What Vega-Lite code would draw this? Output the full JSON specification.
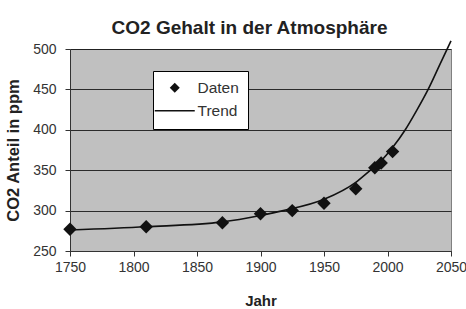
{
  "$schema": "https://vega.github.io/schema/vega-lite/v6.json",
  "width": 381,
  "height": 202,
  "autosize": {"type": "none"},
  "padding": {"left": 70, "top": 49, "right": 15, "bottom": 58},
  "background": "white",
  "config": {
    "view": {"fill": "#c0c0c0", "stroke": "#808080"},
    "font": "Liberation Sans"
  },
  "title": {
    "text": "CO2 Gehalt in der Atmosphäre",
    "fontSize": 19,
    "fontWeight": "bold",
    "color": "#222",
    "anchor": "middle",
    "offset": 0,
    "dx": -11
  },
  "layer": [
    {
      "data": {
        "values": [
          {"Jahr": 1750, "ppm": 276},
          {"Jahr": 1810, "ppm": 280},
          {"Jahr": 1870, "ppm": 286},
          {"Jahr": 1900, "ppm": 294},
          {"Jahr": 1918, "ppm": 300},
          {"Jahr": 1950, "ppm": 314},
          {"Jahr": 1975, "ppm": 335},
          {"Jahr": 1985, "ppm": 348},
          {"Jahr": 1994, "ppm": 360},
          {"Jahr": 2004, "ppm": 378},
          {"Jahr": 2014, "ppm": 400},
          {"Jahr": 2023, "ppm": 424},
          {"Jahr": 2032, "ppm": 450},
          {"Jahr": 2041, "ppm": 480},
          {"Jahr": 2050, "ppm": 510}
        ]
      },
      "mark": {"type": "line", "interpolate": "monotone", "color": "#111", "strokeWidth": 1.6, "clip": false},
      "encoding": {
        "x": {"field": "Jahr", "type": "quantitative"},
        "y": {"field": "ppm", "type": "quantitative"},
        "color": {
          "datum": "Trend",
          "scale": {"domain": ["Daten", "Trend"], "range": ["#111", "#111"]},
          "legend": {
            "orient": "none",
            "legendX": 83,
            "legendY": 22,
            "title": null,
            "fillColor": "white",
            "strokeColor": "#000",
            "padding": 9,
            "symbolSize": 400,
            "symbolOffset": 5,
            "labelOffset": 15,
            "rowPadding": 6,
            "labelFontSize": 15.5,
            "labelColor": "#333",
            "encode": {
              "symbols": {
                "update": {
                  "shape": {"signal": "datum.value === 'Daten' ? 'diamond' : 'M-2,0H2'"},
                  "size": {"signal": "datum.value === 'Daten' ? 100 : 400"},
                  "fill": {"signal": "datum.value === 'Daten' ? '#111' : 'transparent'"},
                  "stroke": {"value": "#111"},
                  "strokeWidth": {"signal": "datum.value === 'Daten' ? 0 : 1.6"},
                  "opacity": {"value": 1}
                }
              }
            }
          }
        }
      }
    },
    {
      "data": {
        "values": [
          {"Jahr": 1750, "ppm": 277},
          {"Jahr": 1810, "ppm": 280},
          {"Jahr": 1870, "ppm": 285},
          {"Jahr": 1900, "ppm": 296},
          {"Jahr": 1925, "ppm": 300},
          {"Jahr": 1950, "ppm": 309},
          {"Jahr": 1975, "ppm": 327},
          {"Jahr": 1990, "ppm": 353},
          {"Jahr": 1995, "ppm": 359},
          {"Jahr": 2004, "ppm": 373}
        ]
      },
      "mark": {"type": "point", "shape": "diamond", "filled": true, "size": 180, "opacity": 1},
      "encoding": {
        "x": {
          "field": "Jahr",
          "type": "quantitative",
          "scale": {"domain": [1750, 2050], "nice": false, "zero": false},
          "axis": {
            "title": "Jahr",
            "values": [1750, 1800, 1850, 1900, 1950, 2000, 2050],
            "format": "d",
            "grid": false,
            "domainColor": "#333",
            "tickColor": "#333",
            "tickSize": 5,
            "labelFontSize": 14,
            "labelColor": "#333",
            "labelPadding": 4,
            "labelFlush": false,
            "labelOverlap": false,
            "labelBound": false,
            "titleFontSize": 15,
            "titleFontWeight": "bold",
            "titleColor": "#222",
            "titleY": 49,
            "titleBaseline": "middle"
          }
        },
        "y": {
          "field": "ppm",
          "type": "quantitative",
          "scale": {"domain": [250, 500], "nice": false, "zero": false},
          "axis": {
            "title": "CO2 Anteil in ppm",
            "values": [250, 300, 350, 400, 450, 500],
            "grid": true,
            "gridColor": "#111",
            "gridOpacity": 0.85,
            "domainColor": "#333",
            "tickColor": "#333",
            "tickSize": 5,
            "labelFontSize": 14,
            "labelColor": "#333",
            "labelPadding": 9,
            "labelOverlap": false,
            "titleFontSize": 16.5,
            "titleFontWeight": "bold",
            "titleColor": "#222",
            "titleX": -57,
            "titleY": 101,
            "titleBaseline": "middle",
            "titleAlign": "center"
          }
        },
        "color": {"datum": "Daten"}
      }
    }
  ]
}
